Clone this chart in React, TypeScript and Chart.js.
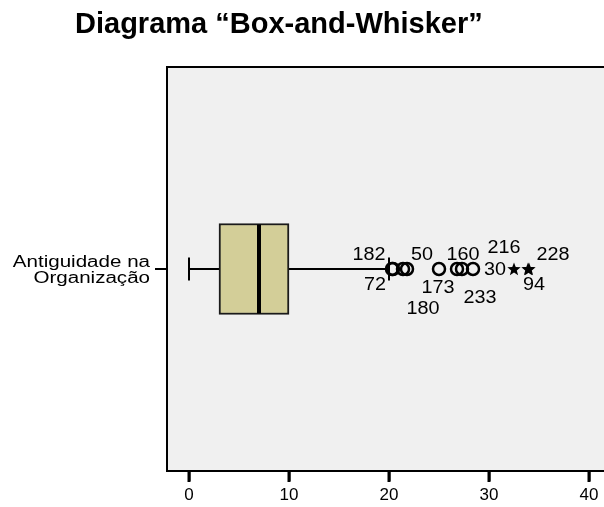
import React, { useEffect, useRef } from 'react';
import { Chart, registerables } from 'chart.js';

Chart.register(...registerables);

// ---- data ----
const titleText = 'Diagrama “Box-and-Whisker”';
const categoryLabel = ['Antiguidade na', 'Organização'];
// min whisker, Q1, median, Q3, max whisker
const boxValues = [0, 3, 7, 10, 20];
const circleValues = [20.3, 20.4, 21.4, 21.8, 25.0, 26.8, 27.3, 28.4];
const circleIds = ['182', '72', '180', '50', '173', '160', '233', '216'];
const starValues = [32.5, 33.9, 34.0];
const starIds = ['30', '228', '94'];
const xTicks = [0, 10, 20, 30, 40];

// ---- layout of the case labels (pixel offsets from their point) ----
const circleLabelOffsets = [
  [-23, -14], [-18, 16], [20, 40], [15, -14], [-1, 19], [6, -14], [18, 29], [31, -21],
];
const starLabelOffsets = [[-19, 1], [25, -14], [5, 16]];

const FONT = '"Liberation Sans", Arial, sans-serif';

function makeStar(size: number) {
  const c = document.createElement('canvas');
  c.width = size;
  c.height = size;
  const g = c.getContext('2d')!;
  const cx = size / 2, cy = size / 2 + 0.5;
  const R = size / 2, r = R * 0.42;
  g.beginPath();
  for (let i = 0; i < 10; i++) {
    const ang = -Math.PI / 2 + (i * Math.PI) / 5;
    const rad = i % 2 === 0 ? R : r;
    const x = cx + rad * Math.cos(ang);
    const y = cy + rad * Math.sin(ang);
    if (i === 0) g.moveTo(x, y); else g.lineTo(x, y);
  }
  g.closePath();
  g.fillStyle = '#000';
  g.fill();
  return c;
}

export default function App() {
  const ref = useRef<HTMLCanvasElement>(null);

  useEffect(() => {
    document.body.style.margin = '0';
    const canvas = ref.current!;
    const star = makeStar(14);

    const plugin = {
      id: 'boxplotExtras',
      beforeDraw(chart: any) {
        const { ctx, chartArea: a } = chart;
        ctx.save();
        ctx.fillStyle = '#F0F0F0';
        ctx.fillRect(a.left, a.top, a.right - a.left, a.bottom - a.top);
        ctx.strokeStyle = '#000';
        ctx.lineWidth = 2;
        ctx.beginPath();
        ctx.moveTo(a.left - 1, a.top);
        ctx.lineTo(a.right + 2, a.top);
        ctx.stroke();
        ctx.restore();
      },
      beforeDatasetsDraw(chart: any) {
        const { ctx, chartArea } = chart;
        const xs = chart.scales.x, ys = chart.scales.y;
        const yc = ys.getPixelForValue(0);
        const p = (v: number) => xs.getPixelForValue(v);
        ctx.save();
        ctx.strokeStyle = '#000';
        ctx.lineWidth = 2;
        ctx.beginPath();
        ctx.moveTo(p(boxValues[0]), yc);
        ctx.lineTo(p(boxValues[1]), yc);
        ctx.moveTo(p(boxValues[3]), yc);
        ctx.lineTo(p(boxValues[4]), yc);
        ctx.moveTo(p(boxValues[0]), yc - 11.5);
        ctx.lineTo(p(boxValues[0]), yc + 11.5);
        ctx.moveTo(p(boxValues[4]), yc - 11.5);
        ctx.lineTo(p(boxValues[4]), yc + 11.5);
        ctx.stroke();
        // x-axis tick marks
        ctx.lineWidth = 3;
        ctx.beginPath();
        const base = chartArea.bottom;
        xTicks.forEach((v) => {
          ctx.moveTo(p(v), base);
          ctx.lineTo(p(v), base + 11);
        });
        ctx.stroke();
        ctx.restore();
      },
      afterDatasetsDraw(chart: any) {
        const { ctx } = chart;
        const xs = chart.scales.x, ys = chart.scales.y;
        const yc = ys.getPixelForValue(0);
        const bar = chart.getDatasetMeta(0).data[0];
        const half = bar ? bar.height / 2 : 45;
        ctx.save();
        ctx.strokeStyle = '#000';
        ctx.lineWidth = 4;
        ctx.beginPath();
        ctx.moveTo(xs.getPixelForValue(boxValues[2]), yc - half + 1);
        ctx.lineTo(xs.getPixelForValue(boxValues[2]), yc + half - 1);
        ctx.stroke();

        ctx.fillStyle = '#000';
        ctx.font = `18px ${FONT}`;
        ctx.textAlign = 'center';
        ctx.textBaseline = 'middle';
        const put = (t: string, x: number, y: number) => {
          ctx.save();
          ctx.translate(x, y);
          ctx.scale(1.1, 1);
          ctx.fillText(t, 0, 0);
          ctx.restore();
        };
        circleValues.forEach((v, i) => {
          const [dx, dy] = circleLabelOffsets[i];
          put(circleIds[i], xs.getPixelForValue(v) + dx, yc + dy);
        });
        starValues.forEach((v, i) => {
          const [dx, dy] = starLabelOffsets[i];
          put(starIds[i], xs.getPixelForValue(v) + dx, yc + dy);
        });
        ctx.restore();
      },
      afterDraw(chart: any) {
        const { ctx } = chart;
        const ys = chart.scales.y;
        const yc = ys.getPixelForValue(0);
        ctx.save();
        ctx.fillStyle = '#000';
        ctx.font = `bold 29px ${FONT}`;
        ctx.textAlign = 'left';
        ctx.textBaseline = 'alphabetic';
        ctx.fillText(titleText, 75, 33);

        ctx.font = `16px ${FONT}`;
        ctx.textAlign = 'right';
        ctx.textBaseline = 'middle';
        const rightX = ys.right - 17;
        categoryLabel.forEach((t, i) => {
          const y = yc - 6 + i * 16;
          ctx.save();
          ctx.translate(rightX, y);
          ctx.scale(1.285, 1);
          ctx.fillText(t, 0, 0);
          ctx.restore();
        });
        ctx.restore();
      },
    };

    const chart = new Chart(canvas, {
      type: 'bar',
      data: {
        datasets: [
          {
            type: 'bar',
            indexAxis: 'y',
            data: [{ x: [boxValues[1], boxValues[3]], y: 0 }],
            backgroundColor: '#D3CE98',
            borderColor: '#1a1a1a',
            borderWidth: 2,
            borderSkipped: false,
            barThickness: 91,
          } as any,
          {
            type: 'scatter',
            data: circleValues.map((v) => ({ x: v, y: 0 })),
            pointStyle: 'circle',
            pointRadius: 6,
            borderColor: '#000',
            borderWidth: 2.5,
            backgroundColor: 'rgba(0,0,0,0)',
          } as any,
          {
            type: 'scatter',
            data: starValues.map((v) => ({ x: v, y: 0 })),
            pointStyle: star,
            pointRadius: 7,
          } as any,
        ],
      },
      options: {
        animation: false,
        responsive: false,
        indexAxis: 'y',
        layout: { autoPadding: false, padding: { top: 67, right: 0, left: 0, bottom: 0 } },
        plugins: {
          legend: { display: false },
          tooltip: { enabled: false },
          title: { display: false },
        },
        scales: {
          x: {
            type: 'linear',
            min: -2.2,
            max: 41.5,
            afterBuildTicks: (s: any) => {
              s.ticks = xTicks.map((v) => ({ value: v }));
            },
            afterFit: (s: any) => {
              s.height = 36;
              s.paddingLeft = 0;
              s.paddingRight = 0;
            },
            grid: {
              drawOnChartArea: false,
              drawTicks: true,
              tickLength: 10,
              color: '#000',
              tickColor: '#000',
              tickWidth: 2.5,
              lineWidth: 2.5,
            },
            border: { display: true, color: '#000', width: 2 },
            ticks: {
              font: { family: FONT, size: 17 },
              color: '#000',
              padding: 4,
              maxRotation: 0,
            },
          },
          y: {
            type: 'linear',
            min: -1,
            max: 1,
            offset: false,
            afterBuildTicks: (s: any) => {
              s.ticks = [{ value: 0 }];
            },
            afterFit: (s: any) => {
              s.width = 167;
            },
            grid: {
              offset: false,
              drawOnChartArea: false,
              drawTicks: true,
              tickLength: 12,
              color: '#000',
              lineWidth: 2,
            },
            border: { display: true, color: '#000', width: 2 },
            ticks: { display: false },
          },
        },
      } as any,
      plugins: [plugin],
    });

    return () => chart.destroy();
  }, []);

  return (
    <div style={{ width: 604, height: 507, background: '#fff' }}>
      <canvas ref={ref} width={604} height={507} style={{ display: 'block' }} />
    </div>
  );
}
